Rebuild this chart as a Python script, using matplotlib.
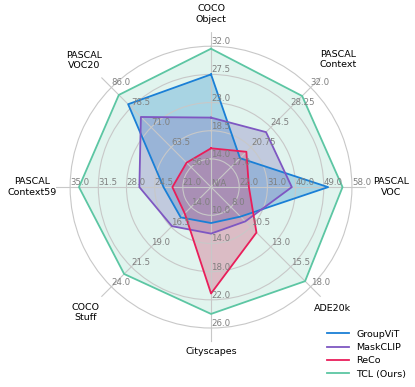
import matplotlib

matplotlib.use("Agg")
import matplotlib.pyplot as plt
import numpy as np


DATASETS = [
    "COCO\nObject",
    "PASCAL\nContext",
    "PASCAL\nVOC",
    "ADE20k",
    "Cityscapes",
    "COCO\nStuff",
    "PASCAL\nContext59",
    "PASCAL\nVOC20",
]

# ring tick values per axis (ring 1 .. ring 5)
RING_TICKS = [
    [14.0, 18.5, 23.0, 27.5, 32.0],
    [17.0, 20.75, 24.5, 28.25, 32.0],
    [22.0, 31.0, 40.0, 49.0, 58.0],
    [8.0, 10.5, 13.0, 15.5, 18.0],
    [10.0, 14.0, 18.0, 22.0, 26.0],
    [14.0, 16.5, 19.0, 21.5, 24.0],
    [21.0, 24.5, 28.0, 31.5, 35.0],
    [56.0, 63.5, 71.0, 78.5, 86.0],
]

METHODS = ["GroupViT", "MaskCLIP", "ReCo", "TCL (Ours)"]
GROUPVIT = [27.5, 18.7, 50.4, 9.2, 11.1, 15.3, 23.4, 79.7]
MASKCLIP = [20.6, 23.6, 38.8, 9.8, 12.6, 16.4, 26.4, 74.9]
RECO = [15.7, 19.9, 25.1, 11.2, 21.1, 14.8, 22.3, 57.7]
TCL = [31.6, 30.4, 55.0, 17.3, 24.0, 22.4, 33.9, 83.2]

COLORS = ["#1a7fd6", "#7e57c2", "#e91e5a", "#5cc6a3"]
FILL_ALPHA = [0.3, 0.3, 0.3, 0.18]

# radial position of the category names, per axis
LABEL_R = [1.23, 1.28, 1.28, 1.22, 1.17, 1.26, 1.27, 1.27]


def fmt(v: float) -> str:
    s = f"{v:.2f}".rstrip("0")
    return s + "0" if s.endswith(".") else s


def to_radius(values, ticks_list):
    out = []
    for v, ticks in zip(values, ticks_list):
        step = ticks[1] - ticks[0]
        lo = ticks[0] - step
        hi = ticks[-1]
        out.append((v - lo) / (hi - lo))
    return np.array(out)


def main() -> None:
    fig = plt.figure(figsize=(4.15, 3.87), dpi=100)
    ax = fig.add_axes([0.135, 0.116, 0.747, 0.801], projection="polar")
    ax.set_theta_zero_location("N")
    ax.set_theta_direction(-1)

    n = len(DATASETS)
    angles = np.arange(n) * 2 * np.pi / n
    closed = np.append(angles, angles[0])

    series = [GROUPVIT, MASKCLIP, RECO, TCL]
    for name, vals, color, alpha in zip(METHODS, series, COLORS, FILL_ALPHA):
        r = to_radius(vals, RING_TICKS)
        r = np.append(r, r[0])
        ax.fill(closed, r, color=color, alpha=alpha, linewidth=0)
        ax.plot(closed, r, color=color, linewidth=1.3, label=name)

    ax.set_ylim(0, 1.1)
    ax.set_yticks([0.2, 0.4, 0.6, 0.8, 1.0])
    ax.set_yticklabels([])
    ax.set_xticks(angles)
    ax.set_xticklabels([])
    ax.grid(True, color="#c8c8c8", linewidth=0.8)
    ax.spines["polar"].set_visible(False)
    ax.tick_params(length=0)

    for ang, ticks in zip(angles, RING_TICKS):
        for k, t in enumerate(ticks):
            ax.text(ang, 0.2 * (k + 1), fmt(t), ha="left", va="bottom",
                    fontsize=6.2, color="#7f7f7f", zorder=5)
    ax.text(0, 0, "N/A", ha="left", va="bottom", fontsize=6.2, color="#7f7f7f", zorder=5)

    for ang, name, lr in zip(angles, DATASETS, LABEL_R):
        ax.text(ang, lr, name, ha="center", va="center", fontsize=6.8)

    fig.legend(loc="lower right", bbox_to_anchor=(1.0, 0.0), frameon=False,
               fontsize=6.8, handlelength=2.3, labelspacing=0.45)

    fig.savefig("out.png", dpi=100)


if __name__ == "__main__":
    main()
